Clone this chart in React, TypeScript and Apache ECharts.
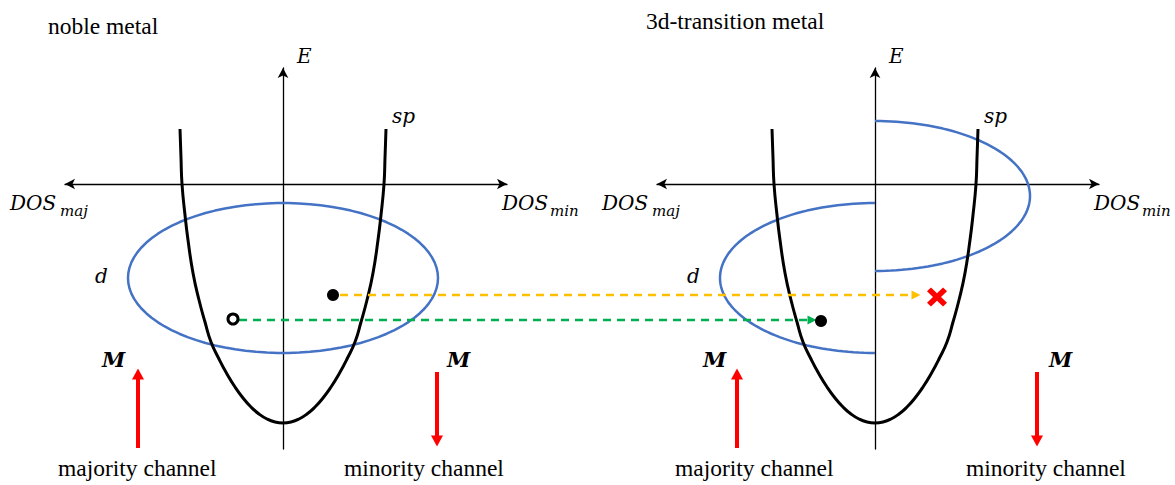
import React, { useEffect, useRef } from "react";
import * as echarts from "echarts";

// ---------- data (DOS / energy units) ----------
const panelTitles = ["noble metal", "3d-transition metal"];
const channelLabels = ["majority channel", "minority channel"];
// sp band: half width vs energy
const spHalfWidth = [0, 0.08, 0.16, 0.24, 0.32, 0.4, 0.48, 0.56, 0.64, 0.72, 0.78, 0.84, 0.9, 0.95, 0.98, 1.01, 1.02, 1.03];
const spEnergy = [-2.39, -2.38, -2.35, -2.3, -2.23, -2.14, -2.03, -1.9, -1.75, -1.58, -1.38, -1.16, -0.89, -0.56, -0.31, 0, 0.26, 0.55];
// d band ellipse centre energy [majority, minority] for each panel, and radii [DOS, E]
const dCentreNoble = [-0.94, -0.94];
const dCentreTransition = [-0.94, -0.12];
const dRadii = [1.55, 0.75];
// electrons / transitions
const orangeStart = [0.57, -1.11]; // noble panel
const orangeEnd = [0.41, -1.11]; // 3d panel
const greenStart = [-0.44, -1.36]; // noble panel
const greenEnd = [-0.63, -1.36]; // 3d panel
const holeNoble = [-0.5, -1.35];
const electronNoble = [0.5, -1.11];
const electronTransition = [-0.54, -1.37];
const blockedTransition = [0.62, -1.13];
// magnetisation arrows: x of [up, down] per panel, energy [from, to]
const arrowXNoble = [-1.45, 1.54];
const arrowXTransition = [-1.38, 1.62];
const arrowUpE = [-2.64, -1.9];
const arrowDownE = [-1.88, -2.57];

// ---------- layout ----------
const X_RANGE = [-2.18, 2.24];
const E_RANGE = [-2.65, 1.16];
const GRID_W = 442;
const GRID_H = 381;
const GRID_TOP = 68;
const GRID_LEFT = [65, 657];
const AXIS_PX = [283, 875];
const PANEL_SHIFT = ((GRID_LEFT[1] - GRID_LEFT[0]) * (X_RANGE[1] - X_RANGE[0])) / GRID_W;

const BLUE = "#4472C4";
const RED = "#FF0000";
const ORANGE = "#FFC000";
const GREEN = "#00B050";
const SERIF = "Liberation Serif";
const MATH = "DejaVu Serif";

function ellipseArc(cx: number, cy: number, rx: number, ry: number, a0: number, a1: number, n = 90) {
  const pts: number[][] = [];
  for (let i = 0; i <= n; i++) {
    const a = ((a0 + ((a1 - a0) * i) / n) * Math.PI) / 180;
    pts.push([cx + rx * Math.cos(a), cy + ry * Math.sin(a)]);
  }
  return pts;
}

function spCurve() {
  const pts: number[][] = [];
  for (let i = spHalfWidth.length - 1; i >= 0; i--) pts.push([-spHalfWidth[i], spEnergy[i]]);
  for (let i = 1; i < spHalfWidth.length; i++) pts.push([spHalfWidth[i], spEnergy[i]]);
  return pts;
}

function lineSeries(grid: number, data: any[], color: string, width: number, z: number, extra: any = {}) {
  return {
    type: "line",
    xAxisIndex: grid,
    yAxisIndex: grid,
    data,
    symbol: "none",
    lineStyle: { color, width },
    silent: true,
    z,
    ...extra,
  };
}

function magnetArrows(grid: number, xs: number[]) {
  return [
    lineSeries(
      grid,
      [
        { value: [xs[0], arrowUpE[0]], symbol: "none" },
        { value: [xs[0], arrowUpE[1]], symbol: "triangle", symbolSize: [12, 11] },
      ],
      RED,
      4,
      6,
      { itemStyle: { color: RED, opacity: 1 }, showSymbol: true }
    ),
    lineSeries(
      grid,
      [
        { value: [xs[1], arrowDownE[0]], symbol: "none" },
        { value: [xs[1], arrowDownE[1]], symbol: "triangle", symbolSize: [12, 11], symbolRotate: 180 },
      ],
      RED,
      4,
      6,
      { itemStyle: { color: RED, opacity: 1 }, showSymbol: true }
    ),
  ];
}

// transitions are drawn in a hidden grid spanning both panels (same scale)
function dashedArrow(start: number[], end: number[], color: string) {
  return lineSeries(
    2,
    [
      { value: [start[0], start[1]], symbol: "none" },
      { value: [end[0] + PANEL_SHIFT, end[1]], symbol: "triangle", symbolSize: [9, 9], symbolRotate: -90 },
    ],
    color,
    2.5,
    4,
    { showSymbol: true, itemStyle: { color, opacity: 1 }, lineStyle: { color, width: 2.5, type: [8, 6] } }
  );
}

function scatter(grid: number, point: number[], symbol: string, size: any, itemStyle: any) {
  return {
    type: "scatter",
    xAxisIndex: grid,
    yAxisIndex: grid,
    data: [point],
    symbol,
    symbolSize: size,
    symbolKeepAspect: true,
    itemStyle: { opacity: 1, ...itemStyle },
    silent: true,
    z: 7,
  };
}

function text(x: number, y: number, t: string, fontSize: number, family: string, fontStyle = "normal", fontWeight: any = "normal") {
  return {
    type: "text",
    x,
    y,
    silent: true,
    z: 10,
    style: {
      text: t,
      fontSize,
      fontFamily: family,
      fontStyle,
      fontWeight,
      fill: "#000",
      align: "left",
      verticalAlign: "middle",
    },
  };
}

function panelTexts(p: number) {
  const ax = AXIS_PX[p];
  const out: any[] = [];
  out.push(text(ax + 14, 56, "E", 20, MATH, "italic"));
  out.push(text(ax + 109, 116, "sp", 20, MATH, "italic"));
  out.push(text(ax - 188, 276, "d", 20, MATH, "italic"));
  out.push(text(ax - 273, 203, "DOS", 20, MATH, "italic"));
  out.push(text(ax - 223, 211, "maj", 15, MATH, "italic"));
  out.push(text(ax + 219, 203, "DOS", 20, MATH, "italic"));
  out.push(text(ax + 267, 211, "min", 15, MATH, "italic"));
  return out;
}

function hiddenAxis(i: number, range: number[]) {
  return { type: "value", gridIndex: i, min: range[0], max: range[1], show: false };
}

function buildOption() {
  const grids: any[] = GRID_LEFT.map((left) => ({ left, top: GRID_TOP, width: GRID_W, height: GRID_H }));
  grids.push({ left: GRID_LEFT[0], top: GRID_TOP, width: GRID_LEFT[1] + GRID_W - GRID_LEFT[0], height: GRID_H });

  const xAxis: any[] = [0, 1].map((i) => ({
    type: "value",
    gridIndex: i,
    min: X_RANGE[0],
    max: X_RANGE[1],
    axisLine: { show: true, onZero: true, symbol: ["arrow", "arrow"], symbolSize: [8, 10], lineStyle: { color: "#000", width: 1.3 } },
    axisTick: { show: false },
    axisLabel: { show: false },
    splitLine: { show: false },
  }));
  xAxis.push(hiddenAxis(2, [X_RANGE[0], X_RANGE[1] + PANEL_SHIFT]));
  const yAxis: any[] = [0, 1].map((i) => ({
    type: "value",
    gridIndex: i,
    min: E_RANGE[0],
    max: E_RANGE[1],
    axisLine: { show: true, onZero: true, symbol: ["none", "arrow"], symbolSize: [8, 10], lineStyle: { color: "#000", width: 1.3 } },
    axisTick: { show: false },
    axisLabel: { show: false },
    splitLine: { show: false },
  }));
  yAxis.push(hiddenAxis(2, E_RANGE));

  const sp = spCurve();
  const series: any[] = [
    // noble metal
    lineSeries(0, sp, "#000", 3, 3, { smooth: 0.5 }),
    lineSeries(0, ellipseArc(0, dCentreNoble[0], dRadii[0], dRadii[1], 0, 360), BLUE, 2.5, 2),
    // 3d transition metal
    lineSeries(1, sp, "#000", 3, 3, { smooth: 0.5 }),
    lineSeries(1, ellipseArc(0, dCentreTransition[0], dRadii[0], dRadii[1], 90, 270), BLUE, 2.5, 2),
    lineSeries(1, ellipseArc(0, dCentreTransition[1], dRadii[0], dRadii[1], -90, 90), BLUE, 2.5, 2),
    // transitions
    dashedArrow(orangeStart, orangeEnd, ORANGE),
    dashedArrow(greenStart, greenEnd, GREEN),
    // electrons
    scatter(0, holeNoble, "circle", 10, { color: "#fff", borderColor: "#000", borderWidth: 3 }),
    scatter(0, electronNoble, "circle", 12, { color: "#000" }),
    scatter(1, electronTransition, "circle", 12, { color: "#000" }),
    scatter(
      1,
      blockedTransition,
      "path://M0,4 L4,0 L10,6 L16,0 L20,4 L14,10 L20,16 L16,20 L10,14 L4,20 L0,16 L6,10 Z",
      [20, 19],
      { color: RED }
    ),
    ...magnetArrows(0, arrowXNoble),
    ...magnetArrows(1, arrowXTransition),
  ];

  const graphic: any[] = [
    text(48, 26, panelTitles[0], 23.5, SERIF),
    text(646, 21, panelTitles[1], 23.5, SERIF),
    text(58, 468, channelLabels[0], 23.5, SERIF),
    text(344, 468, channelLabels[1], 23.5, SERIF),
    text(675, 468, channelLabels[0], 23.5, SERIF),
    text(966, 468, channelLabels[1], 23.5, SERIF),
    text(102, 359, "M", 21, MATH, "italic", "bold"),
    text(447, 359, "M", 21, MATH, "italic", "bold"),
    text(703, 359, "M", 21, MATH, "italic", "bold"),
    text(1049, 359, "M", 21, MATH, "italic", "bold"),
    ...panelTexts(0),
    ...panelTexts(1),
  ];

  return {
    animation: false,
    backgroundColor: "#fff",
    grid: grids,
    xAxis,
    yAxis,
    series,
    graphic,
  };
}

export default function App() {
  const ref = useRef<HTMLDivElement>(null);
  useEffect(() => {
    const chart = echarts.init(ref.current as HTMLDivElement, null, { renderer: "svg" });
    chart.setOption(buildOption() as any);
    return () => chart.dispose();
  }, []);
  return (
    <div
      ref={ref}
      style={{ position: "fixed", left: 0, top: 0, width: 1175, height: 485, background: "#fff" }}
    />
  );
}
